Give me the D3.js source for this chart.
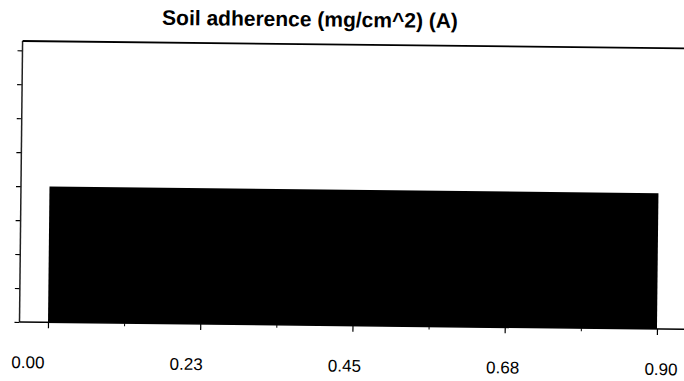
<!DOCTYPE html>
<html><head><meta charset="utf-8">
<script src="https://cdn.jsdelivr.net/npm/d3@7"></script>
<style>html,body{margin:0;padding:0;background:#fff;overflow:hidden} svg{display:block}</style>
</head><body>
<svg id="chart" width="684" height="381"></svg>
<script>
// ---- data ----
const chartTitle = "Soil adherence (mg/cm^2) (A)";
const binStarts = [0.0];
const binEnds = [0.9];
const binHeights = [4];
const xTickValues = [0, 0.225, 0.45, 0.675, 0.9];
const xTickLabels = ["0.00", "0.23", "0.45", "0.68", "0.90"];
const xMinorTickValues = [0.1125, 0.3375, 0.5625, 0.7875];
const yTickValues = [0, 1, 2, 3, 4, 5, 6, 7, 8];

// ---- drawing ----
const svg = d3.select("#chart");
const x = d3.scaleLinear().domain([0, 0.9]).range([48, 657]);
const y = d3.scaleLinear().domain([0, 8]).range([322, 50.3]);
const labelPos = d3.scalePoint().domain(xTickLabels).range([28.3, 661.5]);
const frameLeft = 19.5, frameTopVal = y.invert(41), frameRight = 700;

// slight scan tilt of the original
const g = svg.append("g").attr("transform", "rotate(0.63,20,322)");

const bins = binStarts.map((s, i) => ({ s, e: binEnds[i], h: binHeights[i] }));
g.selectAll("rect.bar").data(bins).join("rect")
  .attr("class", "bar")
  .attr("x", d => x(d.s))
  .attr("width", d => x(d.e) - x(d.s))
  .attr("y", d => y(d.h))
  .attr("height", d => y(0) - y(d.h))
  .attr("fill", "#000");

// y axis ticks (no labels)
const yAx = g.append("g").attr("transform", `translate(${frameLeft},0)`)
  .call(d3.axisLeft(y).tickValues(yTickValues).tickSize(5).tickFormat(""));
yAx.select(".domain").remove();
yAx.selectAll("line").attr("stroke", "#000").attr("stroke-width", 1.2);

// x axis ticks
const xAx = g.append("g").attr("transform", `translate(0,${y(0)})`)
  .call(d3.axisBottom(x).tickValues(xTickValues).tickSize(6).tickFormat(""));
xAx.select(".domain").remove();
xAx.selectAll("line").attr("stroke", "#000").attr("stroke-width", 1.2);
const xMin = g.append("g").attr("transform", `translate(0,${y(0)})`)
  .call(d3.axisBottom(x).tickValues(xMinorTickValues).tickSize(3).tickFormat(""));
xMin.select(".domain").remove();
xMin.selectAll("line").attr("stroke", "#000").attr("stroke-width", 1);

// frame lines
g.append("line").attr("x1", frameLeft).attr("x2", frameLeft).attr("y1", y(frameTopVal)).attr("y2", y(0))
  .attr("stroke", "#222").attr("stroke-width", 1.5);
g.append("line").attr("x1", frameLeft).attr("x2", frameRight).attr("y1", y(frameTopVal)).attr("y2", y(frameTopVal))
  .attr("stroke", "#000").attr("stroke-width", 1.8);
g.append("line").attr("x1", frameLeft).attr("x2", frameRight).attr("y1", y(0)).attr("y2", y(0))
  .attr("stroke", "#000").attr("stroke-width", 1.5);

// tick labels
g.selectAll("text.xl").data(xTickLabels).join("text")
  .attr("class", "xl")
  .attr("x", d => labelPos(d))
  .attr("y", 368)
  .attr("text-anchor", "middle")
  .style("font-family", "'Liberation Sans', Arial, sans-serif")
  .style("font-size", "17px")
  .attr("fill", "#000")
  .text(d => d);

// title (also tilted with the scan)
g.append("text")
  .attr("x", 306.7).attr("y", 23.3)
  .attr("text-anchor", "middle")
  .style("font-family", "'Liberation Sans', Arial, sans-serif")
  .style("font-size", "21px")
  .style("font-weight", "bold")
  .attr("fill", "#000")
  .text(chartTitle);
</script>
</body></html>
